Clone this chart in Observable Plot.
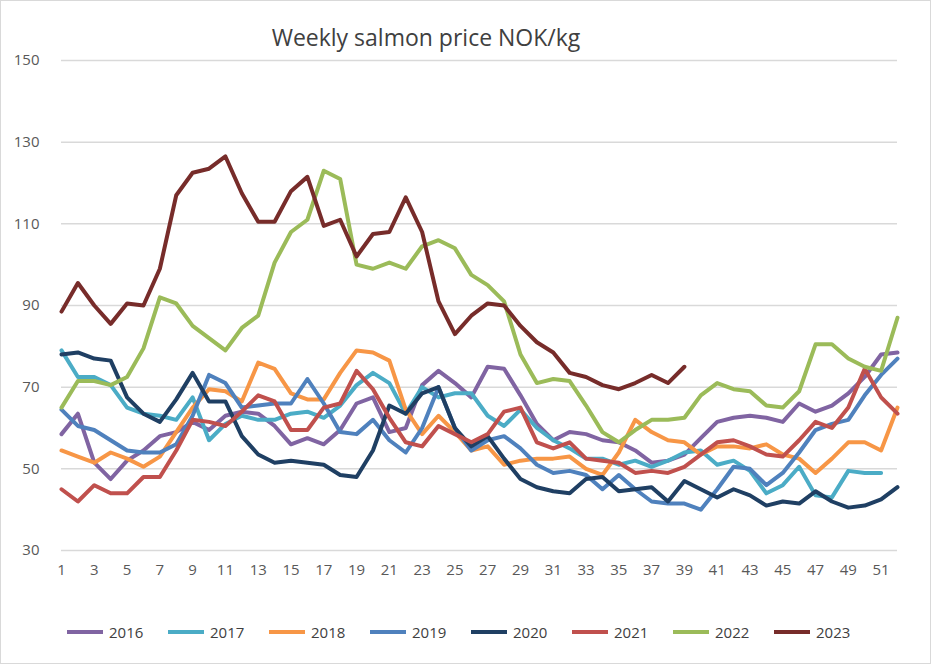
<!DOCTYPE html>
<html><head><meta charset="utf-8">
<script src="https://cdn.jsdelivr.net/npm/d3@7"></script>
<script src="https://cdn.jsdelivr.net/npm/@observablehq/plot@0.6"></script>
<style>
body{margin:0;background:#fff;font-family:"Open Sans",sans-serif;}
#wrap{position:relative;width:929px;height:662px;border:1px solid #d9d9d9;}
#title{position:absolute;top:20px;left:0;width:850px;text-align:center;font-size:23px;color:#404040;}
#chart{position:absolute;top:0;left:0;}
#legend{position:absolute;top:621px;left:66px;display:flex;gap:0;font-size:15px;color:#404040;}
.it{display:flex;align-items:center;width:101px;}
.sw{width:36px;height:4px;margin-right:6px;}
</style></head><body>
<div id="wrap"><div id="title">Weekly salmon price NOK/kg</div><div id="chart"></div><div id="legend"></div></div>
<script>
const years=["2016","2017","2018","2019","2020","2021","2022","2023"];
const colors=["#8064a2","#4bacc6","#f79646","#4f81bd","#1f3f63","#c0504d","#9bbb59","#772c2a"];
const yTicks=[30,50,70,90,110,130,150];
const xTicks=d3.range(1,53,2);
const s2016=[58.5,63.5,51.5,47.5,52,54.5,58,59,61.5,59.5,63,64,63.5,60.5,56,57.5,56,59.5,66,67.5,59,60,70.5,74,71,67.5,75,74.5,68,61,57,59,58.5,57,56.5,54.5,51.5,52,53.5,57.5,61.5,62.5,63,62.5,61.5,66,64,65.5,68.5,72.5,78,78.5];
const s2017=[79,72.5,72.5,70.5,65,63.5,63,62,67.5,57,61,63,62,62,63.5,64,62.5,65.5,70.5,73.5,71,63.5,70,67.5,68.5,68.5,63,60.5,64.5,60,57,55,52.5,52.5,51,52,50.5,52,54,54.5,51,52,49.5,44,46,50.5,43.5,43,49.5,49,49];
const s2018=[54.5,53,51.5,54,52.5,50.5,53,59,65,69.5,69,66.5,76,74.5,68.5,67,67,73.5,79,78.5,76.5,64.5,58.5,63,59,54.5,55.5,51,52,52.5,52.5,53,50,48.5,54,62,59,57,56.5,53.5,55.5,55.5,55,56,53.5,52.5,49,52.5,56.5,56.5,54.5,65];
const s2019=[64.5,60.5,59.5,57,54.5,54,54,56,63,73,71,65,65.5,66,66,72,66,59,58.5,62,57,54,60,70,60,54.5,57,58,55,51,49,49.5,48.5,45,48.5,45,42,41.5,41.5,40,45,50.5,50,46,49,54,59.5,61,62,68,73,77];
const s2020=[78,78.5,77,76.5,67.5,63.5,61.5,67,73.5,66.5,66.5,58,53.5,51.5,52,51.5,51,48.5,48,54.5,65.5,63.5,68.5,70,60,55.5,58,52.5,47.5,45.5,44.5,44,47.5,48,44.5,45,45.5,42,47,45,43,45,43.5,41,42,41.5,44.5,42,40.5,41,42.5,45.5];
const s2021=[45,42,46,44,44,48,48,54.5,62,61.5,60.5,64,68,66.5,59.5,59.5,65,66,74,69.5,62.5,56.5,55.5,60.5,58.5,56.5,58.5,64,65,56.5,55,56.5,52.5,52,51.5,49,49.5,49,50.5,53.5,56.5,57,55.5,53.5,53,57,61.5,60,65,74.5,67.5,63.5];
const s2022=[65,71.5,71.5,70.5,72.5,79.5,92,90.5,85,82,79,84.5,87.5,100.5,108,111,123,121,100,99,100.5,99,104.5,106,104,97.5,95,91,78,71,72,71.5,65.5,59,56.5,59.5,62,62,62.5,68,71,69.5,69,65.5,65,69,80.5,80.5,77,75,74,87];
const s2023=[88.5,95.5,90,85.5,90.5,90,99,117,122.5,123.5,126.5,117.5,110.5,110.5,118,121.5,109.5,111,102,107.5,108,116.5,108,91,83,87.5,90.5,90,85,81,78.5,73.5,72.5,70.5,69.5,71,73,71,75];
const series=[s2016,s2017,s2018,s2019,s2020,s2021,s2022,s2023];
const data=series.flatMap((s,i)=>s.map((v,j)=>({year:years[i],week:j+1,price:v})));
const plot=Plot.plot({
  width:929,height:600,marginTop:59,marginBottom:51,marginLeft:60,marginRight:33,
  style:{fontFamily:"Open Sans, sans-serif",fontSize:"15px",color:"#595959",background:"transparent"},
  x:{domain:[1,52],ticks:xTicks,tickSize:0,tickPadding:14,label:null},
  y:{domain:[30,150],ticks:yTicks,tickSize:0,tickPadding:22,label:null},
  color:{domain:years,range:colors},
  marks:[
    Plot.gridY(yTicks,{stroke:"#d9d9d9",strokeOpacity:1,strokeWidth:1.5}),
    Plot.line(data,{x:"week",y:"price",z:"year",stroke:"year",strokeWidth:4,curve:"linear"})
  ]
});
document.getElementById("chart").appendChild(plot);
const lg=document.getElementById("legend");
years.forEach((y,i)=>{const d=document.createElement("div");d.className="it";d.innerHTML=`<span class="sw" style="background:${colors[i]}"></span>${y}`;lg.appendChild(d);});
</script></body></html>
